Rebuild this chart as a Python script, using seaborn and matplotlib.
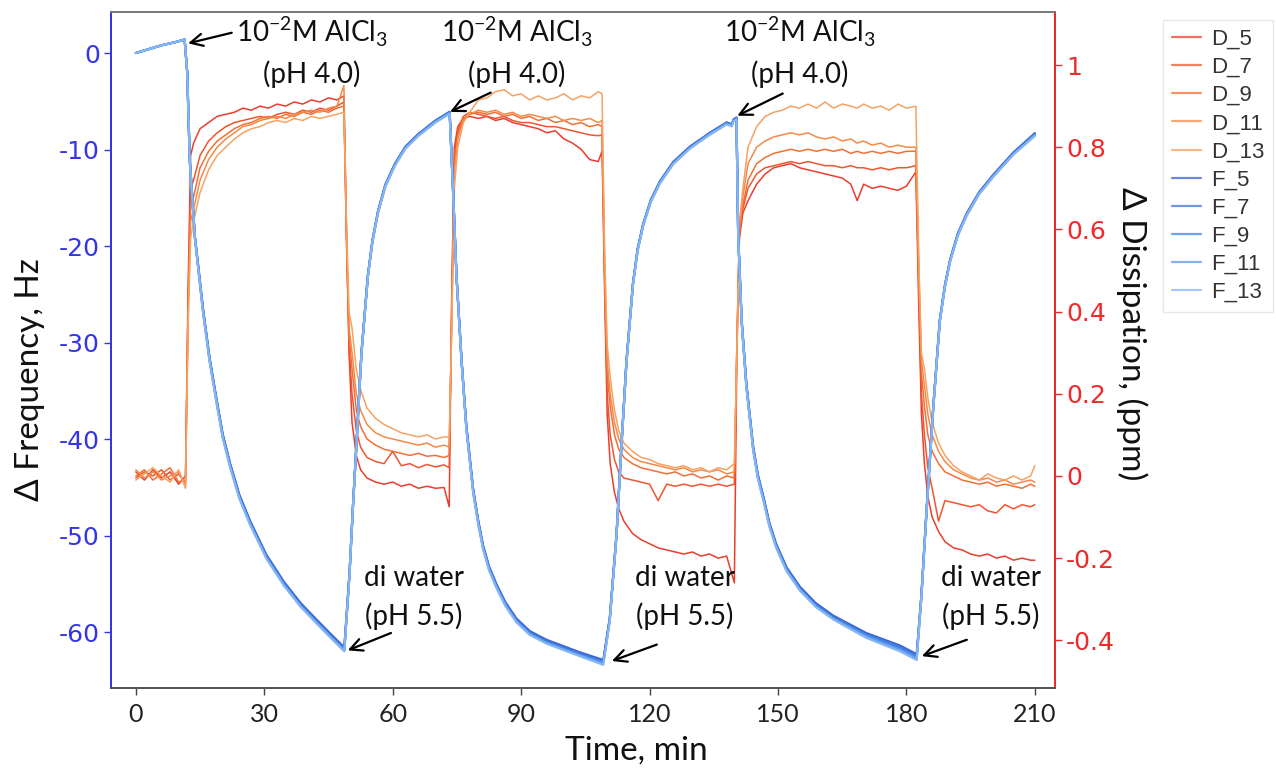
import matplotlib
matplotlib.use("Agg")
import matplotlib.pyplot as plt
from matplotlib.lines import Line2D
import seaborn as sns
import pandas as pd

# ---------------- data ----------------
t_f = [0, 3, 6, 9, 11.4, 12.0, 12.6, 13.8, 15.7, 17.2, 18.9, 20.3, 22.0, 24.2, 26.7, 30.5, 34.6, 38.5, 42.4, 45.5, 48.7,
       49.9, 50.7, 51.5, 52.7, 54.2, 55.3, 56.6, 58.3, 60.5, 63.0, 66.0, 70.0, 73.3,
       74.1, 74.9, 76.1, 77.2, 78.8, 80.0, 81.1, 82.5, 84.2, 86.3, 88.9, 92.0, 95.9, 103.7, 109.2,
       110.7, 112.3, 113.4, 114.6, 116.1, 117.2, 118.5, 120.3, 122.4, 125.5, 129.4, 134.0, 138.0, 139.2, 139.6, 140.3,
       140.7, 141.5, 142.6, 144.2, 145.3, 146.6, 148.0, 149.6, 152.0, 155.1, 158.8, 162.9, 170.6, 178.5, 182.4,
       183.5, 184.7, 186.3, 187.8, 189.0, 190.2, 192.0, 194.1, 197.0, 200.3, 205.0, 210.0]

F_5 = [0.0, 0.4, 0.8, 1.1, 1.4, -2.0, -11.0, -19.0, -26.5, -31.5, -36.0, -39.5, -42.5, -45.8, -48.5, -52.0, -54.8, -57.0, -58.8, -60.2, -61.6,
       -54.0, -47.0, -40.7, -31.0, -23.0, -19.3, -16.3, -13.6, -11.5, -9.7, -8.4, -7.0, -6.1,
       -14.2, -23.0, -31.9, -38.6, -45.2, -48.5, -51.0, -53.2, -55.0, -56.9, -58.6, -59.9, -60.8, -62.1, -62.9,
       -58.6, -49.7, -40.8, -31.9, -23.9, -20.3, -17.7, -15.2, -13.3, -11.3, -9.7, -8.3, -7.2, -7.4, -6.9, -6.7,
       -18.8, -27.6, -34.2, -40.8, -43.7, -46.0, -48.7, -50.9, -53.3, -55.3, -57.0, -58.3, -60.1, -61.4, -62.3,
       -56.1, -47.3, -36.4, -27.6, -24.0, -21.4, -18.7, -16.6, -14.4, -12.6, -10.3, -8.3]
F_7 = [0.0, 0.4, 0.8, 1.1, 1.4, -2.0, -11.1, -19.1, -26.6, -31.6, -36.1, -39.6, -42.6, -45.9, -48.6, -52.1, -54.9, -57.1, -58.9, -60.3, -61.7,
       -54.0, -47.1, -40.8, -31.1, -23.1, -19.4, -16.4, -13.7, -11.5, -9.7, -8.4, -7.0, -6.1,
       -14.3, -23.1, -32.0, -38.7, -45.3, -48.6, -51.1, -53.3, -55.1, -57.0, -58.7, -60.0, -60.9, -62.2, -63.0,
       -58.6, -49.8, -40.9, -32.0, -24.0, -20.4, -17.8, -15.3, -13.4, -11.4, -9.8, -8.3, -7.2, -7.4, -6.9, -6.7,
       -18.9, -27.7, -34.3, -40.9, -43.8, -46.1, -48.8, -51.0, -53.4, -55.4, -57.1, -58.4, -60.2, -61.5, -62.4,
       -56.2, -47.4, -36.5, -27.7, -24.1, -21.5, -18.8, -16.7, -14.5, -12.7, -10.4, -8.4]
F_9 = [0.0, 0.4, 0.8, 1.1, 1.4, -2.0, -11.1, -19.1, -26.7, -31.7, -36.2, -39.7, -42.7, -46.0, -48.7, -52.2, -55.0, -57.2, -59.0, -60.4, -61.8,
       -54.1, -47.1, -40.8, -31.1, -23.1, -19.4, -16.4, -13.7, -11.6, -9.8, -8.5, -7.1, -6.2,
       -14.3, -23.1, -32.0, -38.8, -45.4, -48.7, -51.2, -53.4, -55.2, -57.1, -58.8, -60.1, -61.0, -62.3, -63.1,
       -58.7, -49.8, -40.9, -32.0, -24.0, -20.4, -17.8, -15.3, -13.4, -11.4, -9.8, -8.4, -7.3, -7.5, -7.0, -6.8,
       -18.9, -27.7, -34.4, -41.0, -43.9, -46.2, -48.9, -51.1, -53.5, -55.5, -57.2, -58.5, -60.3, -61.6, -62.5,
       -56.2, -47.4, -36.5, -27.7, -24.1, -21.5, -18.8, -16.7, -14.5, -12.7, -10.4, -8.4]
F_11 = [0.0, 0.4, 0.8, 1.1, 1.4, -2.0, -11.2, -19.2, -26.8, -31.8, -36.3, -39.8, -42.8, -46.1, -48.8, -52.3, -55.1, -57.3, -59.1, -60.5, -61.9,
        -54.1, -47.2, -40.9, -31.2, -23.2, -19.5, -16.5, -13.8, -11.6, -9.8, -8.5, -7.1, -6.2,
        -14.4, -23.2, -32.1, -38.9, -45.5, -48.8, -51.3, -53.5, -55.3, -57.2, -58.9, -60.2, -61.1, -62.4, -63.2,
        -58.8, -49.9, -41.0, -32.1, -24.1, -20.5, -17.9, -15.4, -13.5, -11.5, -9.9, -8.4, -7.3, -7.5, -7.0, -6.8,
        -19.0, -27.8, -34.5, -41.1, -44.0, -46.3, -49.0, -51.2, -53.6, -55.6, -57.3, -58.6, -60.4, -61.8, -62.7,
        -56.3, -47.5, -36.6, -27.8, -24.2, -21.6, -18.9, -16.8, -14.6, -12.8, -10.5, -8.5]
F_13 = [0.0, 0.4, 0.8, 1.1, 1.4, -2.0, -11.2, -19.2, -26.9, -31.9, -36.4, -39.9, -42.9, -46.2, -48.9, -52.4, -55.2, -57.4, -59.2, -60.6, -62.0,
        -54.2, -47.2, -40.9, -31.2, -23.2, -19.5, -16.5, -13.8, -11.7, -9.9, -8.6, -7.2, -6.3,
        -14.4, -23.2, -32.1, -39.0, -45.6, -48.9, -51.4, -53.6, -55.4, -57.3, -59.0, -60.3, -61.2, -62.5, -63.4,
        -58.9, -49.9, -41.0, -32.1, -24.1, -20.5, -17.9, -15.4, -13.5, -11.5, -9.9, -8.5, -7.4, -7.6, -7.1, -6.9,
        -19.0, -27.8, -34.6, -41.2, -44.1, -46.4, -49.1, -51.3, -53.7, -55.7, -57.4, -58.7, -60.6, -62.0, -62.9,
        -56.3, -47.5, -36.6, -27.8, -24.2, -21.6, -18.9, -16.8, -14.6, -12.8, -10.5, -8.6]

t_d = [0, 2, 4, 6, 8, 10, 11.6,
       12.2, 12.8,
       13.5, 15, 17, 19, 21, 23, 25, 27, 29, 31, 33, 35, 37, 39, 41, 43, 45, 47, 48.6,
       49.2, 49.8,
       50.5, 51.5, 52.5, 54, 56, 58, 60, 62, 64, 66, 68, 70, 72, 73.2,
       73.8, 74.4,
       75.2, 76.5, 78, 80, 82, 84, 86, 88, 90, 92, 94, 96, 98, 100, 102, 104, 106, 108, 108.9,
       109.5, 110.1,
       110.8, 111.8, 112.8, 114, 116, 118, 120, 122, 124, 126, 128, 130, 132, 134, 136, 138, 139.8,
       140.4, 141,
       141.8, 143, 145, 147, 149, 151, 153, 155, 157, 159, 161, 163, 165, 167, 168.5, 170, 172, 174, 176, 178, 180, 182.2,
       182.9, 183.5,
       184.2, 185, 186, 187.5, 189, 191, 193, 195, 197, 199, 201, 203, 205, 207, 209, 210]

D_5 = [0.01, -0.01, 0.015, -0.005, 0.01, -0.02, 0.0,
       0.45, 0.78,
       0.81, 0.845, 0.86, 0.875, 0.88, 0.885, 0.895, 0.89, 0.90, 0.895, 0.905, 0.90, 0.91, 0.905, 0.915, 0.91, 0.92, 0.915, 0.925,
       0.6, 0.3,
       0.13, 0.05, 0.015, -0.005, -0.015, -0.02, -0.015, -0.025, -0.02, -0.03, -0.025, -0.03, -0.028, -0.075,
       0.45, 0.8,
       0.85, 0.87, 0.875, 0.87, 0.875, 0.865, 0.87, 0.86, 0.855, 0.85, 0.845, 0.835, 0.84, 0.82, 0.81, 0.795, 0.77, 0.765, 0.79,
       0.45, 0.15,
       0.03, -0.04, -0.08, -0.11, -0.14, -0.155, -0.165, -0.175, -0.18, -0.185, -0.19, -0.185, -0.195, -0.19, -0.2, -0.195, -0.26,
       0.3, 0.58,
       0.64, 0.67, 0.71, 0.735, 0.75, 0.755, 0.76, 0.75, 0.745, 0.74, 0.735, 0.73, 0.725, 0.71, 0.67, 0.71, 0.70, 0.705, 0.70, 0.695, 0.705, 0.74,
       0.4, 0.15,
       0.03, -0.05, -0.1, -0.135, -0.16, -0.175, -0.18, -0.19, -0.195, -0.19, -0.2, -0.195, -0.205, -0.2, -0.205, -0.205]
D_7 = [-0.005, 0.01, 0.0, 0.015, -0.01, 0.005, -0.02,
       0.42, 0.70,
       0.72, 0.78, 0.815, 0.835, 0.85, 0.86, 0.865, 0.87, 0.875, 0.87, 0.88, 0.885, 0.88, 0.89, 0.885, 0.895, 0.89, 0.90, 0.91,
       0.58, 0.32,
       0.2, 0.11, 0.07, 0.045, 0.035, 0.03, 0.06, 0.025, 0.03, 0.02, 0.028, 0.022, 0.027, 0.02,
       0.42, 0.78,
       0.84, 0.875, 0.885, 0.88, 0.875, 0.87, 0.875, 0.865, 0.86, 0.86, 0.855, 0.85, 0.85, 0.845, 0.84, 0.835, 0.83, 0.828, 0.83,
       0.48, 0.2,
       0.1, 0.04, 0.01, -0.005, -0.01, -0.015, -0.02, -0.06, -0.02, -0.025, -0.02, -0.025, -0.02, -0.025, -0.02, -0.025, -0.02,
       0.33, 0.6,
       0.65, 0.70, 0.735, 0.75, 0.755, 0.76, 0.765, 0.76, 0.765, 0.76, 0.755, 0.755, 0.75, 0.755, 0.75, 0.75, 0.745, 0.75, 0.745, 0.75, 0.75, 0.755,
       0.45, 0.2,
       0.1, 0.02, -0.03, -0.11, -0.06, -0.065, -0.07, -0.075, -0.07, -0.085, -0.09, -0.07, -0.08, -0.07, -0.075, -0.07]
D_9 = [0.0, 0.015, -0.01, 0.005, 0.02, -0.015, -0.01,
       0.4, 0.66,
       0.68, 0.75, 0.79, 0.815, 0.83, 0.845, 0.855, 0.86, 0.87, 0.875, 0.87, 0.88, 0.875, 0.885, 0.88, 0.89, 0.885, 0.895, 0.90,
       0.57, 0.34,
       0.26, 0.16, 0.12, 0.09, 0.075, 0.065, 0.06, 0.055, 0.05, 0.055, 0.048, 0.05, 0.045, 0.05,
       0.4, 0.76,
       0.83, 0.87, 0.88, 0.885, 0.88, 0.885, 0.875, 0.88, 0.87, 0.875, 0.865, 0.87, 0.86, 0.865, 0.855, 0.86, 0.85, 0.855, 0.85,
       0.5, 0.25,
       0.17, 0.1, 0.065, 0.045, 0.03, 0.02, 0.015, 0.01, 0.005, 0.01, 0.0, 0.005, -0.005, 0.0, -0.01, 0.0, -0.005,
       0.32, 0.6,
       0.66, 0.72, 0.76, 0.775, 0.785, 0.79, 0.795, 0.79, 0.795, 0.79, 0.795, 0.79, 0.795, 0.785, 0.79, 0.785, 0.79, 0.785, 0.79, 0.785, 0.79, 0.79,
       0.48, 0.25,
       0.17, 0.1, 0.06, 0.03, 0.01, 0.0, -0.01, -0.015, -0.02, -0.015, -0.025, -0.02, -0.025, -0.03, -0.02, -0.025]
D_11 = [0.015, -0.005, 0.01, -0.01, 0.0, 0.01, -0.025,
        0.38, 0.62,
        0.65, 0.72, 0.77, 0.80, 0.82, 0.835, 0.85, 0.855, 0.865, 0.87, 0.875, 0.87, 0.88, 0.885, 0.89, 0.885, 0.895, 0.90, 0.95,
        0.6, 0.36,
        0.3, 0.2, 0.16, 0.125, 0.105, 0.095, 0.09, 0.085, 0.08, 0.075, 0.08, 0.07, 0.075, 0.07,
        0.38, 0.74,
        0.82, 0.865, 0.88, 0.89, 0.885, 0.89, 0.88, 0.885, 0.875, 0.88, 0.875, 0.87, 0.875, 0.865, 0.87, 0.865, 0.87, 0.86, 0.865,
        0.52, 0.28,
        0.2, 0.13, 0.09, 0.065, 0.045, 0.035, 0.03, 0.025, 0.02, 0.015, 0.02, 0.01, 0.015, 0.01, 0.015, 0.005, 0.01,
        0.31, 0.61,
        0.68, 0.76, 0.80, 0.815, 0.825, 0.83, 0.835, 0.83, 0.835, 0.825, 0.82, 0.825, 0.815, 0.82, 0.81, 0.815, 0.805, 0.81, 0.80, 0.805, 0.80, 0.80,
        0.5, 0.28,
        0.22, 0.15, 0.1, 0.06, 0.035, 0.015, 0.005, -0.005, -0.01, -0.005, -0.015, -0.01, -0.02, -0.015, -0.01, -0.015]
D_13 = [-0.01, 0.005, 0.02, 0.0, -0.015, 0.015, -0.03,
        0.36, 0.58,
        0.62, 0.69, 0.745, 0.78, 0.80, 0.82, 0.835, 0.845, 0.85, 0.86, 0.865, 0.86, 0.87, 0.865, 0.875, 0.87, 0.875, 0.88, 0.885,
        0.62, 0.4,
        0.36, 0.26, 0.21, 0.165, 0.14, 0.125, 0.115, 0.105, 0.1, 0.095, 0.1, 0.09, 0.095, 0.095,
        0.36, 0.7,
        0.8, 0.86, 0.885, 0.915, 0.92, 0.935, 0.94, 0.925, 0.93, 0.915, 0.925, 0.915, 0.92, 0.93, 0.915, 0.925, 0.92, 0.935, 0.93,
        0.55, 0.32,
        0.24, 0.16, 0.11, 0.08, 0.06, 0.045, 0.04, 0.03, 0.025, 0.02, 0.025, 0.015, 0.02, 0.01, 0.02, 0.015, 0.03,
        0.3, 0.62,
        0.7, 0.8, 0.85, 0.875, 0.885, 0.89, 0.90, 0.895, 0.905, 0.895, 0.91, 0.895, 0.905, 0.90, 0.895, 0.905, 0.895, 0.90, 0.89, 0.905, 0.895, 0.9,
        0.52, 0.3,
        0.26, 0.19, 0.13, 0.08, 0.05, 0.025, 0.01, 0.0, -0.01, 0.005, -0.005, -0.01, 0.0, -0.01, 0.0, 0.025]

d_names = ["D_5", "D_7", "D_9", "D_11", "D_13"]
f_names = ["F_5", "F_7", "F_9", "F_11", "F_13"]
d_colors = ["#ec3d2c", "#ef5530", "#f26f36", "#f48a48", "#f6a262"]
f_colors = ["#3d5fd8", "#3e70dc", "#3f7fe0", "#5b97e9", "#86b6f2"]

x_ticks = [0, 30, 60, 90, 120, 150, 180, 210]
f_ticks = [0, -10, -20, -30, -40, -50, -60]
d_ticks = [-0.4, -0.2, 0, 0.2, 0.4, 0.6, 0.8, 1]
d_ticklabels = ["-0.4", "-0.2", "0", "0.2", "0.4", "0.6", "0.8", "1"]

# ---------------- long tables for seaborn ----------------
df_d = pd.concat([pd.DataFrame({"t": t_d, "v": v, "series": n})
                  for n, v in zip(d_names, [D_5, D_7, D_9, D_11, D_13])], ignore_index=True)
df_f = pd.concat([pd.DataFrame({"t": t_f, "v": v, "series": n})
                  for n, v in zip(f_names, [F_5, F_7, F_9, F_11, F_13])], ignore_index=True)

sns.set_theme(style="white")
plt.rcParams["font.family"] = ["DejaVu Sans"]
LABEL_FONT = ["Lato", "DejaVu Sans"]

fig = plt.figure(figsize=(12.76, 7.71), dpi=100)
ax = fig.add_axes([111 / 1276, 1 - 688 / 771, (1055 - 111) / 1276, (688 - 12) / 771])
ax2 = ax.twinx()

sns.lineplot(data=df_d, x="t", y="v", hue="series", hue_order=d_names,
             palette=dict(zip(d_names, d_colors)), ax=ax2, legend=False,
             linewidth=1.1, errorbar=None, estimator=None, sort=False)
sns.lineplot(data=df_f, x="t", y="v", hue="series", hue_order=f_names,
             palette=dict(zip(f_names, f_colors)), ax=ax, legend=False,
             linewidth=1.6, errorbar=None, estimator=None, sort=False)

# frequency axis on top of dissipation axis
ax.set_zorder(ax2.get_zorder() + 1)
ax.patch.set_visible(False)

ax.set_xlim(-5.8, 214.7)
ax.set_ylim(-65.8, 4.25)
ax2.set_ylim(-0.516, 1.129)

ax.set_xticks(x_ticks)
ax.set_xticklabels([str(v) for v in x_ticks])
ax.set_yticks(f_ticks)
ax.set_yticklabels([str(v) for v in f_ticks])
ax2.set_yticks(d_ticks)
ax2.set_yticklabels(d_ticklabels)

blue = "#3535e6"
red = "#ee2a2a"
ax.tick_params(axis="y", colors=blue, labelsize=18, length=5, width=1, direction="out", left=True, pad=3)
ax.tick_params(axis="x", colors="#444444", labelsize=18, length=5, width=1, direction="out", bottom=True, pad=6)
for lab in ax.get_xticklabels():
    lab.set_color("#222222")
    lab.set_family(LABEL_FONT)
ax2.tick_params(axis="y", colors=red, labelsize=18, length=5, width=1, direction="out", right=True, pad=3)

for a in (ax, ax2):
    for s in a.spines.values():
        s.set_visible(True)
        s.set_linewidth(1.3)
ax.spines["left"].set_color(blue)
ax2.spines["left"].set_color(blue)
ax.spines["right"].set_color(red)
ax2.spines["right"].set_color(red)
ax.spines["top"].set_color("#7a7a7a")
ax2.spines["top"].set_color("#7a7a7a")
ax.spines["bottom"].set_color("#555555")
ax2.spines["bottom"].set_color("#555555")

ax.set_xlabel("Time, min", fontsize=24, family=LABEL_FONT, color="#111111")
ax.set_ylabel("Δ Frequency, Hz", fontsize=24, family=LABEL_FONT, color="#111111")
ax2.set_ylabel("Δ Dissipation, (ppm)", fontsize=24, family=LABEL_FONT, color="#111111", rotation=270)
ax.xaxis.set_label_coords(0.556, -0.071)
ax.yaxis.set_label_coords(-0.070, 0.457)
ax2.yaxis.set_label_coords(1.0985, 0.524)

# ---------------- annotations ----------------
TXT = dict(fontsize=20, family=LABEL_FONT, color="#111111", ha="center", va="center")
AR = dict(arrowstyle="->", color="black", lw=1.6, mutation_scale=22, shrinkA=0, shrinkB=0)
al_txt = r"10$^{\mathregular{-2}}$M AlCl$_{\mathregular{3}}$"
for (tx, ty1, ty2, hx, hy, sx, sy) in [(41.1, 2.2, -2.2, 12.2, 1.0, 22.4, 2.1),
                                      (89.0, 2.2, -2.2, 73.4, -6.1, 82.9, -4.1),
                                      (155.1, 2.2, -2.2, 140.5, -6.5, 151.1, -4.2)]:
    ax.text(tx, ty1, al_txt, **TXT)
    ax.text(tx, ty2, "(pH 4.0)", **TXT)
    ax.annotate("", xy=(hx, hy), xytext=(sx, sy), arrowprops=AR)

for (tx, hx, hy, sx, sy) in [(64.9, 49.5, -61.9, 59.6, -60.1),
                             (128.2, 111.2, -63.0, 121.7, -61.3),
                             (199.7, 183.6, -62.5, 194.1, -60.8)]:
    ax.text(tx, -54.4, "di water", **TXT)
    ax.text(tx, -58.4, "(pH 5.5)", **TXT)
    ax.annotate("", xy=(hx, hy), xytext=(sx, sy), arrowprops=AR)

# ---------------- legend ----------------
handles = [Line2D([], [], color=c, lw=1.6, alpha=0.75) for c in d_colors + f_colors]
leg = fig.legend(handles, d_names + f_names, loc="upper left",
                 bbox_to_anchor=(1163 / 1276, 1 - 20 / 771), frameon=True,
                 prop={"family": "Liberation Sans", "size": 16},
                 handlelength=1.3, handletextpad=0.45, labelspacing=0.32,
                 borderpad=0.4, borderaxespad=0, fancybox=False)
leg.get_frame().set_edgecolor("#e2e2e2")
leg.get_frame().set_linewidth(1.0)
for t in leg.get_texts():
    t.set_color("#333333")

fig.savefig("out.png", dpi=100, facecolor="white")
